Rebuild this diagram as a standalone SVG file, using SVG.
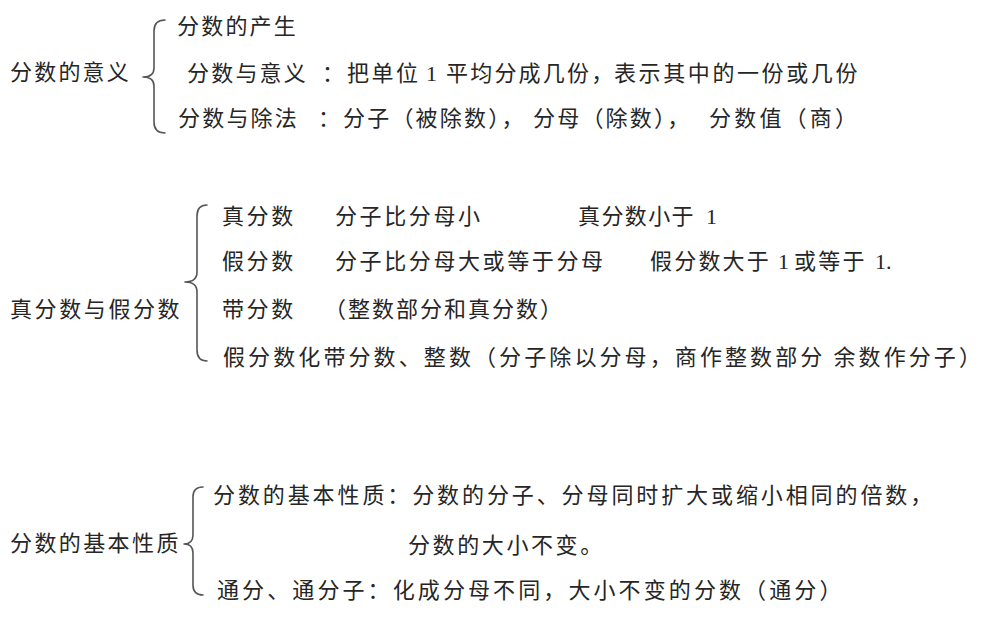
<svg xmlns="http://www.w3.org/2000/svg" width="985" height="617" viewBox="0 0 985 617">
<style>
.t{font-family:"Noto Sans CJK SC","Noto Sans CJK JP",sans-serif;font-size:22px;fill:#262626;letter-spacing:2.2px}
.n{font-family:"Liberation Serif","Noto Sans CJK SC",serif;font-size:22px;fill:#262626}
.br{fill:none;stroke:#555;stroke-width:1.6;stroke-linecap:round;stroke-linejoin:round}
</style>
<rect width="985" height="617" fill="#ffffff"/>

<g id="connectors">
  <path class="br" d="M165 20 Q154 20 154 31 L154 68 Q154 77 143 77 Q154 77 154 86 L154 122 Q154 133 165 133"/>
  <path class="br" d="M207 205 Q197 205 197 216 L197 272 Q197 282 185 282 Q197 282 197 292 L197 350 Q197 361 207 361"/>
  <path class="br" d="M203 487 Q193 487 193 497 L193 535 Q193 544 184 544 Q193 544 193 553 L193 585 Q193 595 203 595"/>
</g>

<g id="sec1">
  <g id="n-meaning"><text class="t" x="10" y="80">分数的意义</text></g>
  <g id="n-origin"><text class="t" x="177" y="34">分数的产生</text></g>
  <g id="n-meaning-def">
    <text class="t" x="187" y="81">分数与意义</text>
    <text class="t" x="322" y="81">：</text>
    <text class="t" x="347" y="81" style="letter-spacing:2.5px">把单位</text>
    <text class="n" x="426" y="81">1</text>
    <text class="t" x="446" y="81">平均分成几份，</text>
    <text class="t" x="614" y="81" style="letter-spacing:2.6px">表示其中的一份或几份</text>
  </g>
  <g id="n-division">
    <text class="t" x="178" y="126">分数与除法</text>
    <text class="t" x="318" y="126">：</text>
    <text class="t" x="343" y="126">分子（被除数），</text>
    <text class="t" x="533" y="126">分母（除数），</text>
    <text class="t" x="709" y="126" style="letter-spacing:3.2px">分数值（商）</text>
  </g>
</g>

<g id="sec2">
  <g id="n-proper-improper"><text class="t" x="10" y="317" style="letter-spacing:2.6px">真分数与假分数</text></g>
  <g id="n-proper">
    <text class="t" x="222" y="224" style="letter-spacing:2.6px">真分数</text>
    <text class="t" x="335" y="224" style="letter-spacing:2.6px">分子比分母小</text>
    <text class="t" x="578" y="224" style="letter-spacing:1.4px">真分数小于</text>
    <text class="n" x="706" y="224">1</text>
  </g>
  <g id="n-improper">
    <text class="t" x="222" y="269" style="letter-spacing:2.6px">假分数</text>
    <text class="t" x="335" y="269" style="letter-spacing:2.6px">分子比分母大或等于分母</text>
    <text class="t" x="650" y="269" style="letter-spacing:2.2px">假分数大于</text>
    <text class="n" x="778" y="269">1</text>
    <text class="t" x="794" y="269" style="letter-spacing:2.2px">或等于</text>
    <text class="n" x="875" y="269">1.</text>
  </g>
  <g id="n-mixed">
    <text class="t" x="222" y="317" style="letter-spacing:2.6px">带分数</text>
    <text class="t" x="324" y="317" style="letter-spacing:2.0px">（整数部分和真分数）</text>
  </g>
  <g id="n-convert">
    <text class="t" x="223" y="365" style="letter-spacing:3.1px">假分数化带分数、整数（分子除以分母，商作整数部分 余数作分子）</text>
  </g>
</g>

<g id="sec3">
  <g id="n-basic"><text class="t" x="10" y="551" style="letter-spacing:2.4px">分数的基本性质</text></g>
  <g id="n-basic-def">
    <text class="t" x="213" y="503" style="letter-spacing:2.9px">分数的基本性质：分数的分子、分母同时扩大或缩小相同的倍数，</text>
    <text class="t" x="408" y="553" style="letter-spacing:2.6px">分数的大小不变。</text>
  </g>
  <g id="n-common">
    <text class="t" x="217" y="598" style="letter-spacing:3.1px">通分、通分子：化成分母不同，大小不变的分数（通分）</text>
  </g>
</g>
</svg>
